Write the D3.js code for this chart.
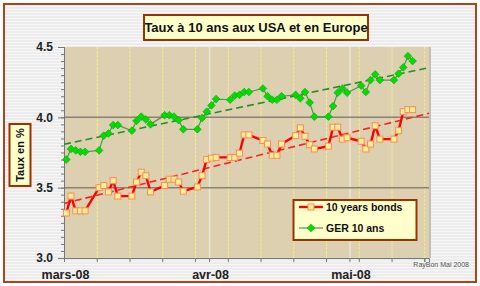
<!DOCTYPE html>
<html>
<head>
<meta charset="utf-8">
<script src="https://cdn.jsdelivr.net/npm/d3@7"></script>
<style>
  body { margin: 0; background: #fff; }
  svg { display: block; font-family: "Liberation Sans", Arial, sans-serif; }
</style>
</head>
<body>
<svg id="chart" width="480" height="286"></svg>
<script>
// trading days, 3 mars -> 16 mai 2008
const days = [
  "2008-03-03","2008-03-04","2008-03-05","2008-03-06","2008-03-07",
  "2008-03-10","2008-03-11","2008-03-12","2008-03-13","2008-03-14",
  "2008-03-17","2008-03-18","2008-03-19","2008-03-20","2008-03-21",
  "2008-03-24","2008-03-25","2008-03-26","2008-03-27","2008-03-28",
  "2008-03-31","2008-04-01","2008-04-02","2008-04-03","2008-04-04",
  "2008-04-07","2008-04-08","2008-04-09","2008-04-10","2008-04-11",
  "2008-04-14","2008-04-15","2008-04-16","2008-04-17","2008-04-18",
  "2008-04-21","2008-04-22","2008-04-23","2008-04-24","2008-04-25",
  "2008-04-28","2008-04-29","2008-04-30","2008-05-01","2008-05-02",
  "2008-05-05","2008-05-06","2008-05-07","2008-05-08","2008-05-09",
  "2008-05-12","2008-05-13","2008-05-14","2008-05-15","2008-05-16"
];

// US 10 years bonds
const usBonds = [
  3.32, 3.44, 3.335, 3.335, 3.335,
  3.50, 3.515, 3.47, 3.55, 3.44,
  3.44, 3.54, 3.61, 3.585, 3.47,
  3.515, 3.56, 3.56, 3.54, 3.475,
  3.505, 3.585, 3.70, 3.71, 3.715,
  3.715, 3.715, 3.745, 3.875, 3.875,
  3.835, 3.81, 3.73, 3.73, 3.81,
  3.87, 3.925, 3.865, 3.805, 3.775,
  3.795, 3.93, 3.93, 3.845, 3.855,
  3.83, 3.775, 3.81, 3.94, 3.845,
  3.845, 3.905, 4.04, 4.055, 4.055
];

// Bund 10 ans
const ger10 = [
  3.70, 3.775, 3.765, 3.755, 3.755,
  3.765, 3.87, 3.885, 3.945, 3.945,
  3.905, 3.975, 4.005, 3.985, 3.95,
  4.015, 4.015, 4.005, 3.98, 3.915,
  3.915, 3.995, 4.04, 4.085, 4.13,
  4.125, 4.155, 4.16, 4.18, 4.18,
  4.205, 4.15, 4.125, 4.125, 4.15,
  4.16, 4.135, 4.18, 4.105, 4.005,
  4.005, 4.08, 4.175, 4.205, 4.175,
  4.225, 4.18, 4.265, 4.305, 4.265,
  4.265, 4.31, 4.355, 4.435, 4.40
];

const yTicks = [3.0, 3.5, 4.0, 4.5];
const monthStarts = ["2008-03-03", "2008-04-03", "2008-05-03"];
const monthLabels = ["mars-08", "avr-08", "mai-08"];
const seriesNames = ["10 years bonds", "GER 10 ans"];

const parse = d3.timeParse("%Y-%m-%d");
const noon = s => d3.timeHour.offset(parse(s), 12);

const svg = d3.select("#chart");
const brown = "#a8461e";

// 1) background with faint stripes
const defs = svg.append("defs");
const pat = defs.append("pattern")
  .attr("id", "stripes").attr("patternUnits", "userSpaceOnUse")
  .attr("width", 4).attr("height", 3);
pat.append("rect").attr("width", 4).attr("height", 3).attr("fill", "#ececec");
pat.append("rect").attr("width", 4).attr("height", 1).attr("fill", "#f7f7f7");

svg.append("rect")
  .attr("x", 4).attr("y", 4).attr("width", 472).attr("height", 278)
  .attr("fill", "url(#stripes)")
  .attr("stroke", brown).attr("stroke-width", 2);

// 2) scales
const plot = { left: 64, right: 429, top: 47, bottom: 258 };
const x = d3.scaleTime()
  .domain([parse("2008-03-03"), parse("2008-05-20")])
  .range([plot.left, plot.right]);
const y = d3.scaleLinear()
  .domain([3.0, 4.5])
  .range([plot.bottom, plot.top]);

// plot area
svg.append("rect")
  .attr("x", plot.left).attr("y", plot.top)
  .attr("width", plot.right - plot.left).attr("height", plot.bottom - plot.top)
  .attr("fill", "#dcd0b1");
svg.append("line")
  .attr("x1", plot.right + 1).attr("x2", plot.right + 1)
  .attr("y1", plot.top).attr("y2", plot.bottom)
  .attr("stroke", "#c4c0b8").attr("stroke-width", 2);

// 3) gridlines
const weeks = d3.timeMonday.range(parse("2008-03-03"), parse("2008-05-20"));
const months = monthStarts.map(parse);

svg.append("g").selectAll("line")
  .data(weeks.slice(1))
  .join("line")
    .attr("x1", d => x(d) + 0.5).attr("x2", d => x(d) + 0.5)
    .attr("y1", plot.top).attr("y2", plot.bottom)
    .attr("stroke", "#f6ee80").attr("stroke-width", 1)
    .attr("stroke-dasharray", "3,1");

svg.append("g").selectAll("line")
  .data(months.slice(1))
  .join("line")
    .attr("x1", d => x(d) + 0.5).attr("x2", d => x(d) + 0.5)
    .attr("y1", plot.top).attr("y2", plot.bottom)
    .attr("stroke", "#ece6d4").attr("stroke-width", 1.5);

svg.append("g").selectAll("line")
  .data([3.5, 4.0])
  .join("line")
    .attr("x1", plot.left).attr("x2", plot.right)
    .attr("y1", d => y(d)).attr("y2", d => y(d))
    .attr("stroke", "#8a8272").attr("stroke-width", 1.5);

// 4) axes
const yMinor = d3.axisLeft(y).tickValues(d3.range(3.0, 4.5001, 0.05)).tickSize(3).tickFormat("");
svg.append("g").attr("transform", `translate(${plot.left},0)`).call(yMinor);
const yAxis = d3.axisLeft(y).tickValues(yTicks).tickSize(6).tickPadding(5)
  .tickFormat(d3.format(".1f"));
svg.append("g").attr("transform", `translate(${plot.left},0)`).call(yAxis)
  .call(g => g.selectAll("text")
    .attr("font-size", 12).attr("font-weight", "bold").attr("fill", "#222")
    .attr("font-family", "'Liberation Sans', Arial, sans-serif"));

const xAxis = d3.axisBottom(x).tickValues(weeks.concat(months.slice(1)).concat([parse("2008-05-19")]))
  .tickSize(4).tickFormat("");
svg.append("g").attr("transform", `translate(0,${plot.bottom})`).call(xAxis);

svg.selectAll(".domain").attr("stroke", "#777");
svg.selectAll(".tick line").attr("stroke", "#777");

svg.append("g").selectAll("text")
  .data(monthLabels)
  .join("text")
    .attr("x", (d, i) => x(months[i]) + 1.5)
    .attr("y", 279)
    .attr("text-anchor", "middle")
    .attr("font-size", 12.5).attr("font-weight", "bold").attr("fill", "#222")
    .text(d => d);

// 5) trend lines (least squares, like the Excel ones)
function trend(values) {
  const pts = days.map((d, i) => [+noon(d), values[i]]);
  const mx = d3.mean(pts, p => p[0]), my = d3.mean(pts, p => p[1]);
  const b = d3.sum(pts, p => (p[0] - mx) * (p[1] - my)) / d3.sum(pts, p => (p[0] - mx) ** 2);
  const a = my - b * mx;
  const x0 = +parse("2008-03-03"), x1 = +x.domain()[1];
  return [[x0, a + b * x0], [x1, a + b * x1]];
}

svg.append("path")
  .attr("d", d3.line(d => x(d[0]), d => y(d[1]))(trend(ger10)))
  .attr("stroke", "#2a8a2a").attr("stroke-width", 1.6)
  .attr("stroke-dasharray", "7,4").attr("fill", "none");
svg.append("path")
  .attr("d", d3.line(d => x(d[0]), d => y(d[1]))(trend(usBonds)))
  .attr("stroke", "#ff2020").attr("stroke-width", 1.6)
  .attr("stroke-dasharray", "7,4").attr("fill", "none");

// 6) series
const line = d3.line().x((d, i) => x(noon(days[i]))).y(d => y(d));
const diamond = d3.symbol().type(d3.symbolDiamond2).size(38);

svg.append("path").attr("d", line(ger10))
  .attr("fill", "none").attr("stroke", "#4c9a4c").attr("stroke-width", 1.2);
svg.append("g").selectAll("path")
  .data(ger10)
  .join("path")
    .attr("transform", (d, i) => `translate(${x(noon(days[i]))},${y(d)})`)
    .attr("d", diamond)
    .attr("fill", "#00dd00").attr("stroke", "#10a010").attr("stroke-width", 0.6);

svg.append("path").attr("d", line(usBonds))
  .attr("fill", "none").attr("stroke", "#ff0000").attr("stroke-width", 2.4);
svg.append("g").selectAll("rect")
  .data(usBonds)
  .join("rect")
    .attr("x", (d, i) => x(noon(days[i])) - 3)
    .attr("y", d => y(d) - 3)
    .attr("width", 6).attr("height", 6)
    .attr("fill", "#ffef9a").attr("stroke", "#ff8a50").attr("stroke-width", 1);

// 7) title boxes
svg.append("rect")
  .attr("x", 144).attr("y", 15).attr("width", 224).attr("height", 25)
  .attr("fill", "#ffffcc").attr("stroke", "#993300").attr("stroke-width", 2);
svg.append("text")
  .attr("x", 256).attr("y", 32).attr("text-anchor", "middle")
  .attr("font-size", 13).attr("font-weight", "bold").attr("fill", "#111")
  .text("Taux à 10 ans aux USA et en Europe");

svg.append("rect")
  .attr("x", 9.5).attr("y", 124).attr("width", 21).attr("height", 62)
  .attr("fill", "#ffffcc").attr("stroke", "#993300").attr("stroke-width", 2);
svg.append("text")
  .attr("transform", "translate(24,155) rotate(-90)")
  .attr("text-anchor", "middle")
  .attr("font-size", 11).attr("font-weight", "bold").attr("fill", "#111")
  .text("Taux en %");

// 8) legend
const lg = svg.append("g");
lg.append("rect")
  .attr("x", 293.5).attr("y", 200).attr("width", 123).attr("height", 40)
  .attr("fill", "#ffffcc").attr("stroke", "#993300").attr("stroke-width", 2);
lg.append("line").attr("x1", 299).attr("x2", 323).attr("y1", 207).attr("y2", 207)
  .attr("stroke", "#ff0000").attr("stroke-width", 2.4);
lg.append("rect").attr("x", 308).attr("y", 204).attr("width", 6).attr("height", 6)
  .attr("fill", "#ffef9a").attr("stroke", "#ff8a50");
lg.append("line").attr("x1", 299).attr("x2", 323).attr("y1", 228).attr("y2", 228)
  .attr("stroke", "#4c9a4c").attr("stroke-width", 1.2);
lg.append("path").attr("transform", "translate(311,228)").attr("d", diamond)
  .attr("fill", "#00dd00").attr("stroke", "#10a010").attr("stroke-width", 0.6);
lg.selectAll("text.lab")
  .data(seriesNames)
  .join("text")
    .attr("class", "lab")
    .attr("x", 326).attr("y", (d, i) => 211 + i * 21)
    .attr("font-size", 10.5).attr("font-weight", "bold").attr("fill", "#111")
    .text(d => d);

// 9) credit
svg.append("text")
  .attr("x", 469).attr("y", 267).attr("text-anchor", "end")
  .attr("font-size", 7).attr("fill", "#555")
  .text("RayBon Mai 2008");
</script>
</body>
</html>
